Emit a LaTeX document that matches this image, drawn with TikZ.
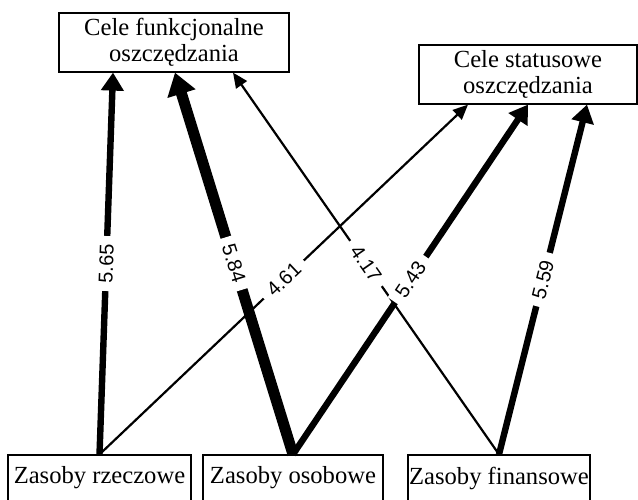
\documentclass[tikz,border=0pt]{standalone}
\usepackage{fontspec}
\setmainfont{Liberation Serif}
\newfontfamily\labelfont{Liberation Sans}
\usetikzlibrary{arrows.meta,positioning,calc}

\begin{document}
\begin{tikzpicture}[
    x=0.5pt, y=-0.5pt,
    goal/.style={rectangle, draw, line width=0.6pt, inner sep=0pt, align=center,
                 minimum height=29.5pt, font=\fontsize{12.3}{12.8}\selectfont},
    res/.style={rectangle, draw, line width=0.6pt, inner sep=0pt,
                minimum height=23pt, font=\fontsize{12.3}{12.8}\selectfont},
    weak/.style={-{Triangle[length=7.5pt,width=6.5pt]}, line width=1.1pt},
    link/.style={-{Triangle[length=9pt,width=11pt]}, line width=3.2pt},
    strong/.style={-{Triangle[length=11pt,width=14pt]}, line width=5.5pt},
    wlabel/.style={midway, sloped, fill=white, inner xsep=4pt, inner ysep=1pt,
                   font=\labelfont\fontsize{10}{11}\selectfont}
  ]
    \useasboundingbox (0,0) rectangle (638,499);

    % Goals
    \node[goal, minimum width=115pt] (fun) at (174,42.5)
      {Cele funkcjonalne\\oszczędzania};
    \node[goal, minimum width=109pt] (stat) at (528,74.5)
      {Cele statusowe\\oszczędzania};

    % Resources
    \node[res, minimum width=91.5pt] (rze) at (99.5,478) {Zasoby rzeczowe};
    \node[res, minimum width=90pt] (oso) at (293,478) {Zasoby osobowe};
    \node[res, minimum width=91pt] (fin) at (499,478) {Zasoby finansowe};

    % Arrow ends on the goals
    \coordinate (fun1) at ([xshift=-30.5pt]fun.south);
    \coordinate (fun2) at ([xshift=0.5pt]fun.south);
    \coordinate (fun3) at ([xshift=29.5pt]fun.south);
    \coordinate (stat1) at ([xshift=-30pt]stat.south);
    \coordinate (stat2) at (stat.south);
    \coordinate (stat3) at ([xshift=29.5pt]stat.south);

    % Paths
    \draw[link] (rze.north) -- (fun1) node[wlabel] {5.65};
    \draw[strong] (oso.north) -- (fun2) node[wlabel] {5.84};
    \draw[weak] (fin.north) -- (fun3) node[wlabel] {4.17};
    \draw[weak] (rze.north) -- (stat1) node[wlabel] {4.61};
    \draw[link] (oso.north) -- (stat2) node[wlabel] {5.43};
    \draw[link] (fin.north) -- (stat3) node[wlabel] {5.59};
\end{tikzpicture}
\end{document}
